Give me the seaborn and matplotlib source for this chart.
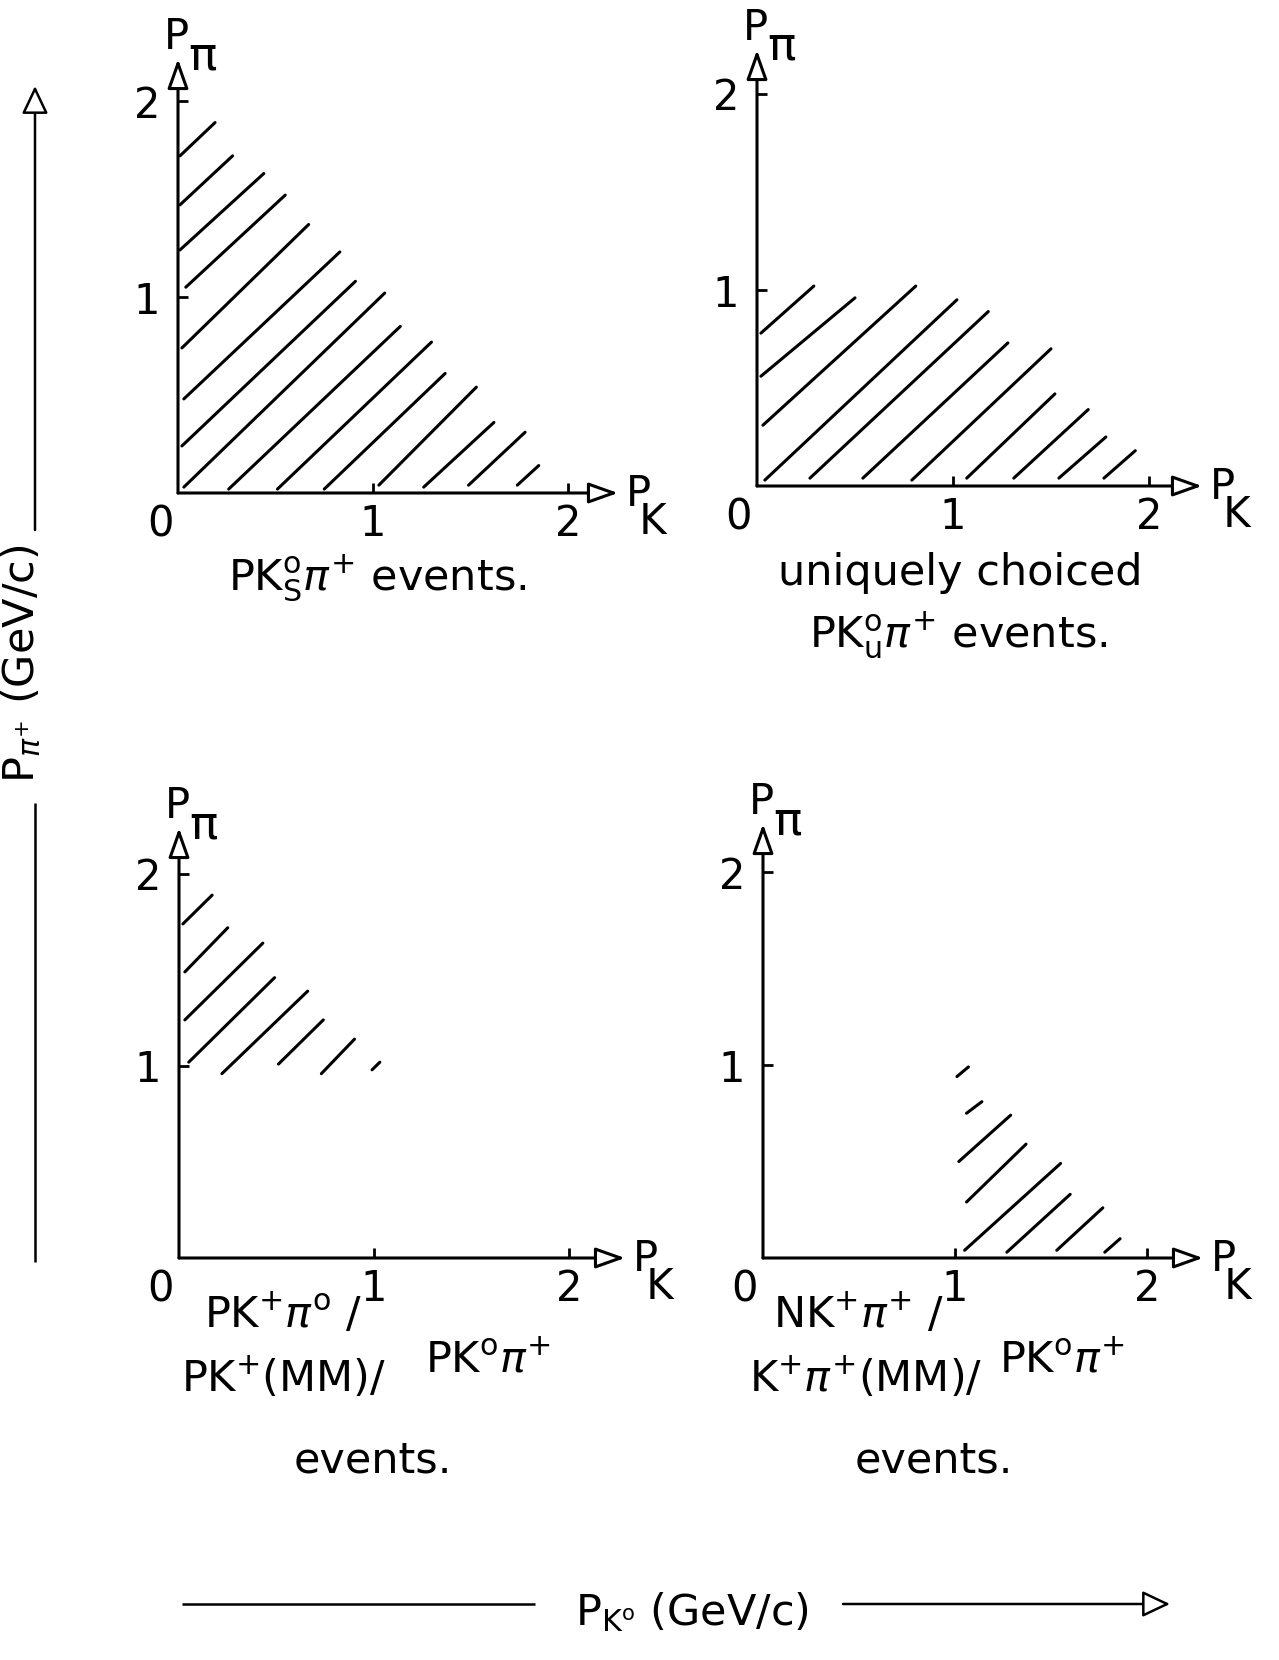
import matplotlib
matplotlib.use("Agg")
import matplotlib.pyplot as plt
import pandas as pd
import seaborn as sns

sns.set_theme(style="white")
plt.rcParams["font.family"] = ["DejaVu Sans"]
plt.rcParams["mathtext.fontset"] = "dejavusans"
plt.rcParams["text.color"] = "black"
plt.rcParams["xtick.color"] = "black"
plt.rcParams["ytick.color"] = "black"
plt.rcParams["axes.labelcolor"] = "black"

# Hatch segments bounding each kinematic region (P_K, P_pi in GeV/c)
# PK0_S pi+ events
ks_x0 = [0.01, 0.01, 0.01, 0.04, 0.02, 0.03, 0.02, 0.03, 0.26, 0.51, 0.75, 1.03, 1.26, 1.49, 1.74]
ks_y0 = [1.72, 1.47, 1.24, 1.05, 0.74, 0.48, 0.24, 0.03, 0.02, 0.02, 0.02, 0.04, 0.03, 0.04, 0.04]
ks_x1 = [0.19, 0.28, 0.44, 0.55, 0.67, 0.83, 0.91, 1.06, 1.14, 1.30, 1.37, 1.53, 1.62, 1.78, 1.85]
ks_y1 = [1.89, 1.72, 1.63, 1.52, 1.37, 1.23, 1.08, 1.02, 0.85, 0.77, 0.61, 0.54, 0.36, 0.31, 0.14]

# uniquely choiced PK0_u pi+ events
ku_x0 = [0.02, 0.02, 0.03, 0.04, 0.27, 0.54, 0.79, 1.07, 1.31, 1.54, 1.77]
ku_y0 = [0.78, 0.56, 0.31, 0.03, 0.04, 0.04, 0.03, 0.04, 0.04, 0.04, 0.04]
ku_x1 = [0.29, 0.50, 0.81, 1.02, 1.18, 1.28, 1.50, 1.52, 1.69, 1.78, 1.93]
ku_y1 = [1.02, 0.96, 1.02, 0.95, 0.89, 0.73, 0.70, 0.47, 0.39, 0.25, 0.18]

# PK+pi0 / PK+(MM) / PK0 pi+ events
kp_x0 = [0.02, 0.03, 0.03, 0.05, 0.22, 0.51, 0.73, 0.99]
kp_y0 = [1.74, 1.49, 1.24, 1.02, 0.96, 1.01, 0.96, 0.98]
kp_x1 = [0.17, 0.25, 0.43, 0.49, 0.66, 0.74, 0.90, 1.03]
kp_y1 = [1.89, 1.72, 1.64, 1.46, 1.39, 1.24, 1.14, 1.02]

# NK+pi+ / K+pi+(MM) / PK0 pi+ events
kn_x0 = [1.01, 1.06, 1.02, 1.06, 1.05, 1.27, 1.53, 1.78]
kn_y0 = [0.94, 0.75, 0.50, 0.29, 0.04, 0.03, 0.04, 0.03]
kn_x1 = [1.07, 1.14, 1.29, 1.37, 1.55, 1.60, 1.77, 1.86]
kn_y1 = [0.99, 0.81, 0.74, 0.59, 0.49, 0.33, 0.26, 0.10]

tick_values = [1, 2]
tick_labels = ["1", "2"]

panel_segments = [
    (ks_x0, ks_y0, ks_x1, ks_y1),
    (ku_x0, ku_y0, ku_x1, ku_y1),
    (kp_x0, kp_y0, kp_x1, kp_y1),
    (kn_x0, kn_y0, kn_x1, kn_y1),
]

# panel frames in pixels: origin x, origin y, px per unit x, px per unit y, x-arrow tip, y-arrow tip
frames = [
    (178, 493, 195, 196, 618, 59),
    (757, 486, 196, 196, 1202, 50),
    (179, 1258, 195, 192, 625, 828),
    (763, 1258, 192, 193, 1203, 824),
]

W, H = 1279, 1660
fig = plt.figure(figsize=(W / 100, H / 100), dpi=100)
fig.patch.set_facecolor("white")

ov = fig.add_axes([0, 0, 1, 1])
ov.set_xlim(0, W)
ov.set_ylim(H, 0)
ov.axis("off")

LW = 2.2
TXT = 30


def axis_arrow(axis, start, end, lw=LW, scale=20, hl=0.9, hw=0.32):
    axis.annotate("", xy=end, xytext=start, xycoords="data", textcoords="data",
                  arrowprops=dict(arrowstyle=f"-|>,head_length={hl},head_width={hw}",
                                  mutation_scale=scale, lw=lw, fc="white", ec="black",
                                  shrinkA=0, shrinkB=0),
                  annotation_clip=False)


for (x0, y0, x1, y1), (ox, oy, sx, sy, xt, yt) in zip(panel_segments, frames):
    xmax = (xt - ox) / sx
    ymax = (oy - yt) / sy
    ax = fig.add_axes([ox / W, (H - oy) / H, (xt - ox) / W, (oy - yt) / H])
    ax.set_xlim(0, xmax)
    ax.set_ylim(0, ymax)
    ax.patch.set_visible(False)
    for s in ax.spines.values():
        s.set_visible(False)

    rows = []
    for i in range(len(x0)):
        rows.append({"seg": i, "pk": x0[i], "ppi": y0[i]})
        rows.append({"seg": i, "pk": x1[i], "ppi": y1[i]})
    df = pd.DataFrame(rows)
    sns.lineplot(data=df, x="pk", y="ppi", units="seg", estimator=None, sort=False,
                 color="black", lw=LW, ax=ax, legend=False)
    for ln in ax.lines:
        ln.set_clip_on(False)
        ln.set_solid_capstyle("round")
    ax.set_xlabel("")
    ax.set_ylabel("")

    ax.set_xticks(tick_values)
    ax.set_xticklabels(tick_labels)
    ax.set_yticks(tick_values)
    ax.set_yticklabels(tick_labels)
    ax.tick_params(axis="both", which="both", direction="in", length=7.5, width=2.0,
                   labelsize=TXT, colors="black", bottom=True, left=True)
    ax.tick_params(axis="x", pad=7)
    ax.tick_params(axis="y", pad=13)

    axis_arrow(ax, (0, 0), (xmax, 0))
    axis_arrow(ax, (0, 0), (0, ymax))

    # axis names and origin
    ov.text(ox - 14, yt - 10, "P", ha="left", va="baseline", fontsize=TXT)
    ov.text(ox + 10, yt + 10, "π", ha="left", va="baseline", fontsize=34)
    ov.text(xt + 8, oy + 41, "P\n K", ha="left", va="baseline", fontsize=TXT,
            linespacing=0.58, multialignment="left")
    ov.text(ox - 18, oy + 43, "0", ha="center", va="baseline", fontsize=TXT)

CAP = 31
# captions
ov.text(377, 589, r"PK$^{\mathrm{o}}_{\mathrm{S}}\pi^{+}$ events.", ha="center", va="baseline", fontsize=CAP)
ov.text(960, 585, "uniquely choiced", ha="center", va="baseline", fontsize=CAP)
ov.text(958, 646, r"PK$^{\mathrm{o}}_{\mathrm{u}}\pi^{+}$ events.", ha="center", va="baseline", fontsize=CAP)

ov.text(283, 1328, r"PK$^{+}\pi^{\mathrm{o}}$ /", ha="center", va="baseline", fontsize=CAP)
ov.text(284, 1392, r"PK$^{+}$(MM)/", ha="center", va="baseline", fontsize=CAP)
ov.text(488, 1372, r"PK$^{\mathrm{o}}\pi^{+}$", ha="center", va="baseline", fontsize=CAP)
ov.text(373, 1472, "events.", ha="center", va="baseline", fontsize=CAP)

ov.text(859, 1328, r"NK$^{+}\pi^{+}$ /", ha="center", va="baseline", fontsize=CAP)
ov.text(866, 1392, r"K$^{+}\pi^{+}$(MM)/", ha="center", va="baseline", fontsize=CAP)
ov.text(1062, 1372, r"PK$^{\mathrm{o}}\pi^{+}$", ha="center", va="baseline", fontsize=CAP)
ov.text(934, 1472, "events.", ha="center", va="baseline", fontsize=CAP)

# overall momentum axes
ov.plot([35, 35], [1262, 803], color="black", lw=1.8, solid_capstyle="butt")
axis_arrow(ov, (35, 530), (35, 86), lw=1.8, scale=18, hl=0.95, hw=0.45)
ov.text(22, 664, r"P$_{\pi^{+}}$ (GeV/c)", rotation=90, ha="center", va="center", fontsize=31)

ov.plot([182, 535], [1604, 1604], color="black", lw=1.8, solid_capstyle="butt")
axis_arrow(ov, (843, 1604), (1170, 1604), lw=1.8, scale=18, hl=0.95, hw=0.45)
ov.text(692, 1612, r"P$_{\mathrm{K}^{\mathrm{o}}}$ (GeV/c)", ha="center", va="center", fontsize=31)

fig.savefig("out.png", dpi=100, facecolor="white")
